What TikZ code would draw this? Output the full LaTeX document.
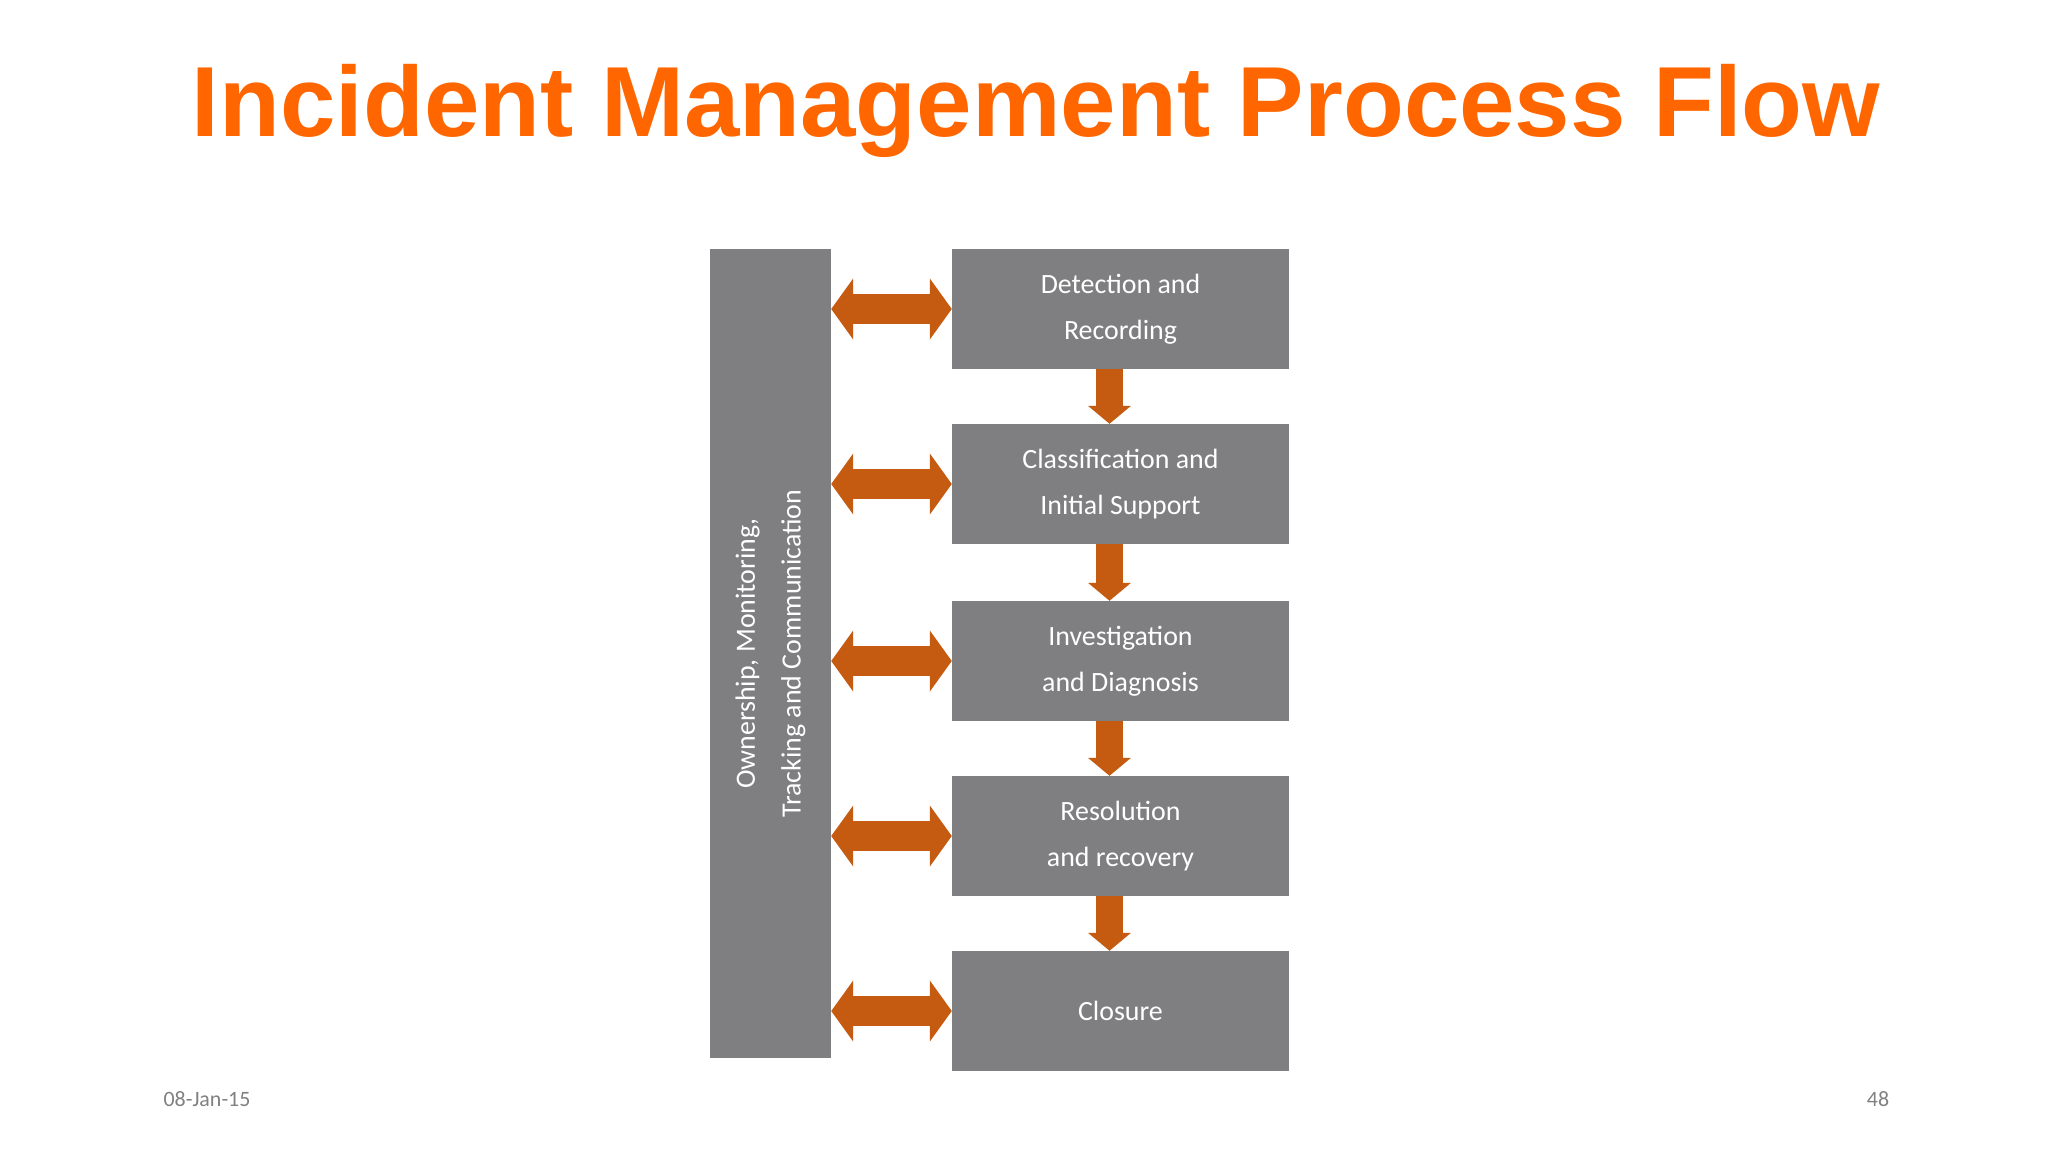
\documentclass[tikz,border=0pt]{standalone}
\usepackage{fontspec}
\setmainfont{Carlito}
\newfontfamily\titlefont{Liberation Sans}
\usetikzlibrary{arrows.meta,positioning}
\definecolor{boxgray}{HTML}{7F7E80}
\definecolor{arroworange}{HTML}{C55A11}
\definecolor{titleorange}{HTML}{FF6600}

\begin{document}
\begin{tikzpicture}[x=1bp, y=-1bp,
    stage/.style={rectangle, fill=boxgray, text=white, minimum width=337bp, minimum height=120bp, inner sep=0pt, align=center, font=\fontsize{28}{46}\selectfont},
    side/.style={rectangle, fill=boxgray, minimum width=121bp, minimum height=809bp, inner sep=0pt},
    twoway/.style={arroworange, line width=30bp, {Triangle[width=60bp,length=22bp]}-{Triangle[width=60bp,length=22bp]}},
    down/.style={arroworange, line width=27bp, -{Triangle[width=42bp,length=18bp]}}
]
\useasboundingbox (0,0) rectangle (2048,1152);

\node[font=\titlefont\bfseries\fontsize{100}{100}\selectfont, text=titleorange] (title) at (1036,111) {Incident Management Process Flow};

\node[side] (owner) at (770.5,653.5) {};
\node[rotate=90, text=white, align=center, font=\fontsize{28}{46}\selectfont] (ownertext) at (owner.center) {Ownership, Monitoring,\\Tracking and Communication};

\node[stage] (detect) at (1120.5,309) {Detection and\\Recording};
\node[stage] (classify) at (1120.5,484) {Classification and\\Initial Support};
\node[stage] (diagnose) at (1120.5,661) {Investigation\\and Diagnosis};
\node[stage] (resolve) at (1120.5,836) {Resolution\\and recovery};
\node[stage] (closure) at (1120.5,1011) {Closure};

\foreach \n in {detect,classify,diagnose,resolve,closure}
    \draw[twoway] (owner.east |- \n.west) -- (\n.west);

\draw[down] ([xshift=-11bp]detect.south) -- ([xshift=-11bp]classify.north);
\draw[down] ([xshift=-11bp]classify.south) -- ([xshift=-11bp]diagnose.north);
\draw[down] ([xshift=-11bp]diagnose.south) -- ([xshift=-11bp]resolve.north);
\draw[down] ([xshift=-11bp]resolve.south) -- ([xshift=-11bp]closure.north);

\node[text=gray, font=\fontsize{22}{22}\selectfont] (date) at (207,1099) {08-Jan-15};
\node[text=gray, font=\fontsize{22}{22}\selectfont] (page) at (1878,1099) {48};
\end{tikzpicture}
\end{document}
